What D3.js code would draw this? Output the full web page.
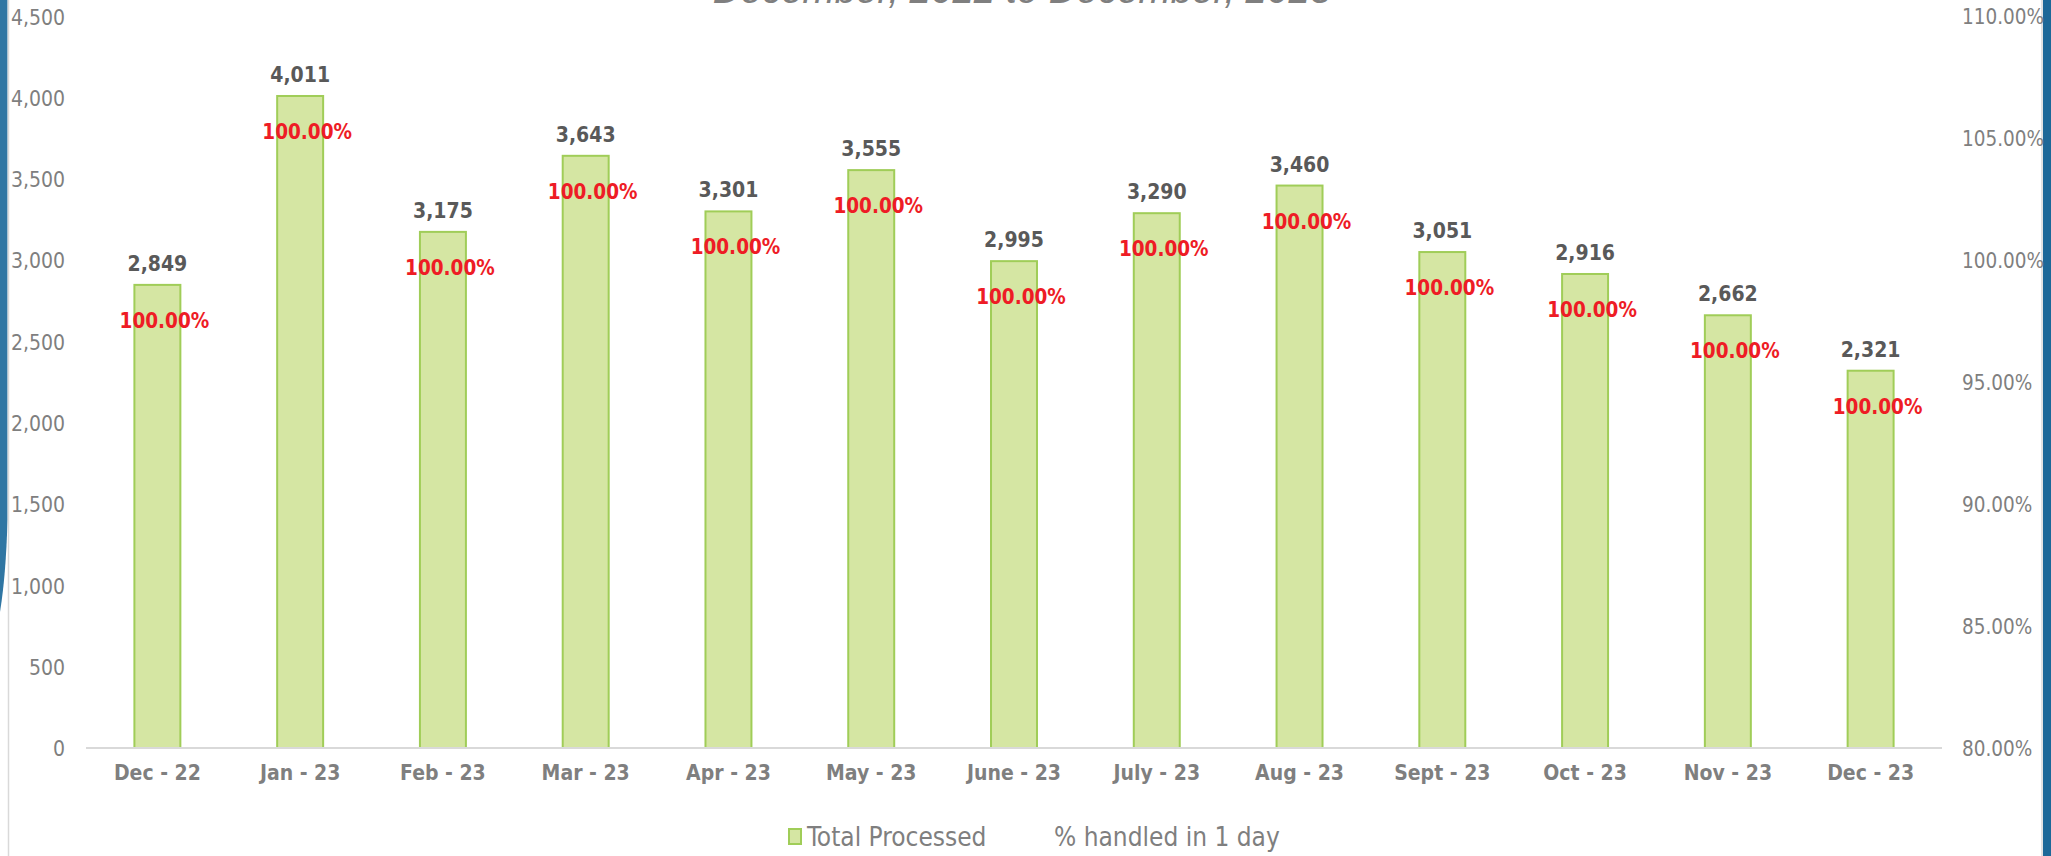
<!DOCTYPE html>
<meta charset="utf-8">
<style>
body { margin: 0; background: #fff; }
svg { display: block; }
.axis text { font-family: "DejaVu Sans Condensed", "DejaVu Sans", sans-serif; font-stretch: condensed; fill: #7f7f7f; }
.cat text { font-weight: bold; }
</style>
<svg width="2051" height="856"></svg>
<script src="https://cdn.jsdelivr.net/npm/d3@7"></script>
<script>

// data
var months = ["Dec - 22", "Jan - 23", "Feb - 23", "Mar - 23", "Apr - 23", "May - 23", "June - 23",
              "July - 23", "Aug - 23", "Sept - 23", "Oct - 23", "Nov - 23", "Dec - 23"];
var totalProcessed = [2849, 4011, 3175, 3643, 3301, 3555, 2995, 3290, 3460, 3051, 2916, 2662, 2321];
var handledInOneDay = [1, 1, 1, 1, 1, 1, 1, 1, 1, 1, 1, 1, 1];
var leftTicks = [0, 500, 1000, 1500, 2000, 2500, 3000, 3500, 4000, 4500];
var rightTicks = [0.80, 0.85, 0.90, 0.95, 1.00, 1.05, 1.10];
var seriesNames = ["Total Processed", "% handled in 1 day"];
var title = "December, 2022 to December, 2023";

var svg = d3.select("svg"),
    width = +svg.attr("width"),
    height = +svg.attr("height");

var plot = {left: 86, right: 1942, top: 16.5, bottom: 748};
var font = '"DejaVu Sans Condensed", "DejaVu Sans", sans-serif';

// side decorations
svg.append("path")
    .attr("d", "M0,0 L7.5,0 L7.5,520 Q6,575 0,612 Z")
    .attr("fill", "#2f76a3");
svg.append("line")
    .attr("x1", 8.5).attr("x2", 8.5).attr("y1", 0).attr("y2", height)
    .attr("stroke", "#d9d9d9").attr("stroke-width", 1.5);
svg.append("rect")
    .attr("x", 2043).attr("y", 0).attr("width", 8).attr("height", height)
    .attr("fill", "#1d6898");
svg.append("line")
    .attr("x1", 2042).attr("x2", 2042).attr("y1", 0).attr("y2", height)
    .attr("stroke", "#d9d9d9").attr("stroke-width", 1.5);

// title, cut off by the top edge
svg.append("text")
    .attr("x", 1022).attr("y", 3)
    .attr("text-anchor", "middle")
    .attr("font-family", "Liberation Sans, sans-serif")
    .attr("font-style", "italic")
    .attr("font-size", 38.5)
    .attr("fill", "#7f7f7f")
    .text(title);

var x = d3.scaleBand()
    .domain(months)
    .range([plot.left, plot.right])
    .paddingInner(0.678)
    .paddingOuter(0.339);

var y = d3.scaleLinear().domain([0, 4500]).range([plot.bottom, plot.top]);
var y2 = d3.scaleLinear().domain([0.8, 1.1]).range([plot.bottom, plot.top]);

// left axis
var gl = svg.append("g")
    .attr("class", "axis")
    .attr("transform", "translate(" + 72 + ",0)")
    .call(d3.axisLeft(y).tickValues(leftTicks).tickFormat(d3.format(",")).tickSize(0).tickPadding(7));
gl.select(".domain").remove();
gl.selectAll("text").attr("font-size", 21).attr("font-family", null).attr("dy", "0.36em");

// right axis
var gr = svg.append("g")
    .attr("class", "axis")
    .attr("transform", "translate(" + 1955 + ",0)")
    .call(d3.axisRight(y2).tickValues(rightTicks).tickFormat(d3.format(".2%")).tickSize(0).tickPadding(7));
gr.select(".domain").remove();
gr.selectAll("text").attr("font-size", 20.5).attr("font-family", null).attr("dy", "0.36em");

// bars
svg.append("g")
  .selectAll("rect")
  .data(totalProcessed)
  .enter().append("rect")
    .attr("x", function(d, i) { return x(months[i]); })
    .attr("y", function(d) { return y(d); })
    .attr("width", x.bandwidth())
    .attr("height", function(d) { return y(0) - y(d); })
    .attr("fill", "#d5e6a3")
    .attr("stroke", "#a0cd58")
    .attr("stroke-width", 2);

// baseline
svg.append("line")
    .attr("x1", plot.left).attr("x2", plot.right)
    .attr("y1", plot.bottom).attr("y2", plot.bottom)
    .attr("stroke", "#d9d9d9").attr("stroke-width", 2);

// category labels
var gx = svg.append("g")
    .attr("class", "axis cat")
    .attr("transform", "translate(0," + plot.bottom + ")")
    .call(d3.axisBottom(x).tickSize(0).tickPadding(17));
gx.select(".domain").remove();
gx.selectAll("text").attr("font-size", 21).attr("font-family", null).attr("dy", "0.71em");

// value labels
svg.append("g")
  .selectAll("text")
  .data(totalProcessed)
  .enter().append("text")
    .attr("x", function(d, i) { return x(months[i]) + x.bandwidth() / 2; })
    .attr("y", function(d) { return y(d) - 14; })
    .attr("text-anchor", "middle")
    .attr("font-family", font)
    .attr("font-stretch", "condensed")
    .attr("font-weight", "bold")
    .attr("font-size", 21)
    .attr("fill", "#595959")
    .text(d3.format(","));

// % handled labels, sitting just under the bar tops
svg.append("g")
  .selectAll("text")
  .data(handledInOneDay)
  .enter().append("text")
    .attr("x", function(d, i) { return x(months[i]) + x.bandwidth() / 2 + 7; })
    .attr("y", function(d, i) { return y(totalProcessed[i]) + 43; })
    .attr("text-anchor", "middle")
    .attr("font-family", font)
    .attr("font-stretch", "condensed")
    .attr("font-weight", "bold")
    .attr("font-size", 20.5)
    .attr("fill", "#ee1c25")
    .text(d3.format(".2%"));

// legend
var leg = svg.append("g")
    .attr("font-family", '"Liberation Sans Narrow", "DejaVu Sans Condensed", sans-serif')
    .attr("font-stretch", "condensed")
    .attr("font-size", 26)
    .attr("fill", "#7f7f7f");
leg.append("rect")
    .attr("x", 789).attr("y", 829).attr("width", 12).attr("height", 15)
    .attr("fill", "#d5e6a3").attr("stroke", "#a0cd58").attr("stroke-width", 2);
leg.append("text").attr("x", 807).attr("y", 846).text(seriesNames[0]);
leg.append("text").attr("x", 1054).attr("y", 846).text(seriesNames[1]);

</script>
